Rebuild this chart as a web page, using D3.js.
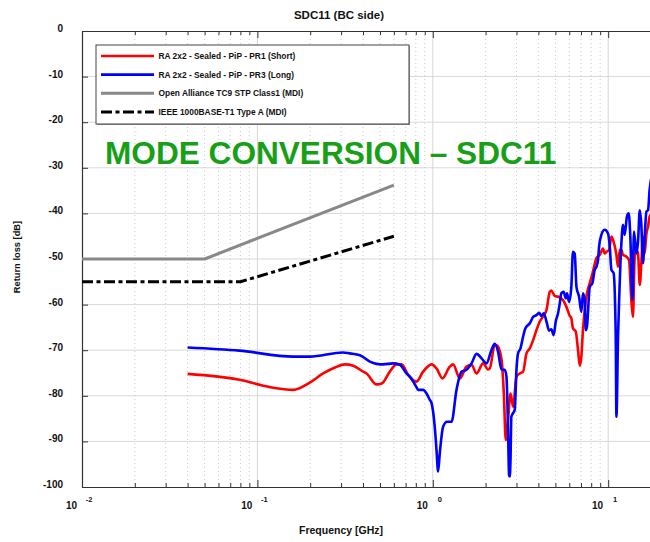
<!DOCTYPE html>
<html>
<head>
<meta charset="utf-8">
<script src="https://cdn.jsdelivr.net/npm/d3@7"></script>
<style>
  body { margin: 0; background: #fff; }
  svg { display: block; font-family: "Liberation Sans", Arial, sans-serif; }
</style>
</head>
<body>
<svg id="chart" width="650" height="542"></svg>
<script>
// SDC11 mode conversion, frequency in GHz, return loss in dB

// RA 2x2 - Sealed - PiP - PR1 (Short)
const freqShort = [0.04, 0.079, 0.118, 0.16, 0.199, 0.237, 0.277, 0.316, 0.352, 0.401, 0.419, 0.478,
  0.511, 0.569, 0.621, 0.664, 0.723, 0.807, 0.881, 0.984, 1.05, 1.135, 1.25, 1.306, 1.426, 1.556,
  1.663, 1.775, 1.936, 2.065, 2.113, 2.255, 2.306, 2.355, 2.466, 2.541, 2.606, 2.685, 2.773, 2.871,
  2.999, 3.133, 3.273, 3.42, 3.573, 3.733, 3.899, 4.074, 4.256, 4.446, 4.645, 4.742, 4.955, 5.297,
  5.525, 5.781, 6.039, 6.166, 6.295, 6.531, 6.73, 6.887, 7.031, 7.178, 7.345, 7.568, 7.852, 8.185,
  8.57, 8.954, 9.333, 9.55, 9.772, 10.11, 10.43, 10.65, 11.14, 11.38, 11.64, 11.89, 12.14, 12.71,
  13.14, 13.55, 13.84, 14.16, 14.49, 14.79, 15.14, 15.45, 15.78, 16.14, 16.52, 16.87, 17.22, 18.5, 20];
const lossShort = [-75.2, -76.5, -78.1, -78.7, -77.1, -75.1, -73.8, -73.1, -73.4, -74.7, -75.1, -77.5,
  -77.3, -74.7, -73.1, -73.1, -75.4, -76.9, -74.7, -73.1, -74.0, -76.2, -73.6, -73.1, -76.2, -73.6,
  -73.2, -75.1, -72.9, -74.2, -74.0, -68.9, -68.9, -69.2, -72.1, -79.5, -89.7, -85.3, -79.5, -82.4,
  -75.8, -75.1, -74.7, -70.7, -69.6, -67.8, -65.6, -63.7, -62.6, -61.2, -57.2, -56.9, -58.1, -58.4,
  -59.0, -60.5, -62.5, -63.0, -65.2, -65.9, -70.0, -73.4, -71.4, -65.6, -61.2, -57.5, -55.3, -52.8,
  -49.8, -49.1, -47.7, -48.8, -48.4, -48.0, -45.1, -45.8, -49.1, -51.7, -48.0, -48.0, -49.1, -49.5,
  -50.2, -59.0, -62.7, -49.5, -48.0, -48.8, -55.7, -50.9, -45.1, -48.8, -44.4, -42.9, -40.7, -39.5, -39];

// RA 2x2 - Sealed - PiP - PR3 (Long)
const freqLong = [0.04, 0.079, 0.16, 0.199, 0.308, 0.336, 0.384, 0.438, 0.478, 0.499, 0.521, 0.594,
  0.649, 0.708, 0.74, 0.807, 0.824, 0.881, 0.921, 0.962, 0.984, 1.026, 1.05, 1.072, 1.096, 1.145,
  1.206, 1.279, 1.365, 1.459, 1.556, 1.663, 1.775, 1.897, 2.023, 2.158, 2.255, 2.355, 2.466, 2.57,
  2.63, 2.685, 2.723, 2.748, 2.773, 2.805, 2.871, 2.931, 2.999, 3.062, 3.162, 3.273, 3.373, 3.573,
  3.733, 3.899, 4.036, 4.159, 4.295, 4.446, 4.603, 4.742, 4.887, 5.023, 5.176, 5.297, 5.408, 5.572,
  5.728, 5.821, 5.984, 6.166, 6.295, 6.442, 6.592, 6.823, 7.031, 7.178, 7.345, 7.447, 7.568, 7.852,
  8.128, 8.375, 8.57, 8.75, 8.872, 9.141, 9.55, 9.977, 10.21, 10.43, 10.74, 11.04, 11.14, 11.38,
  11.53, 11.89, 12.14, 12.42, 12.79, 13.09, 13.37, 13.74, 14.03, 14.49, 14.79, 15.14, 15.45, 15.78,
  16.14, 16.52, 16.87, 17.22, 18, 20];
const lossLong = [-69.4, -70.1, -71.4, -71.4, -70.5, -70.7, -71.1, -72.5, -73.0, -73.1, -73.1, -72.9,
  -73.2, -75.1, -75.8, -78.1, -78.7, -78.7, -79.5, -80.9, -81.6, -86.8, -91.9, -96.6, -92.6, -86.8,
  -85.7, -85.7, -78.7, -74.7, -74.3, -72.9, -70.8, -71.8, -72.9, -70.0, -68.6, -70.3, -74.3, -74.3,
  -75.8, -87.5, -97.4, -97.7, -94.1, -84.6, -83.8, -83.1, -74.3, -70.7, -69.6, -67.0, -65.2, -64.1,
  -62.7, -62.3, -61.8, -62.5, -61.9, -63.7, -65.7, -65.4, -66.7, -63.7, -61.9, -59.7, -57.5, -57.2,
  -58.6, -57.5, -59.4, -56.0, -48.4, -48.8, -56.1, -58.3, -61.6, -57.5, -59.0, -65.6, -64.8, -56.1,
  -55.3, -52.4, -51.7, -50.2, -47.3, -44.7, -43.6, -44.4, -47.3, -52.4, -53.1, -67.0, -84.6, -67.0,
  -59.7, -46.6, -42.5, -44.7, -40.7, -40.0, -45.1, -59.0, -44.0, -48.8, -46.2, -39.3, -42.5, -50.9,
  -45.1, -39.6, -39.3, -34.9, -31, -29];

// Open Alliance TC9 STP Class1 (MDI) limit
const freqOA = [0.01, 0.05, 0.6];
const lossOA = [-50, -50, -33.8];

// IEEE 1000BASE-T1 Type A (MDI) limit
const freqIEEE = [0.01, 0.08, 0.6];
const lossIEEE = [-55, -55, -45];

const seriesNames = [
  "RA 2x2 - Sealed - PiP - PR1 (Short)",
  "RA 2x2 - Sealed - PiP - PR3 (Long)",
  "Open Alliance TC9 STP Class1 (MDI)",
  "IEEE 1000BASE-T1 Type A (MDI)"
];
const yTickValues = [0, -10, -20, -30, -40, -50, -60, -70, -80, -90, -100];
const chartTitle = "SDC11 (BC side)";
const xTitle = "Frequency [GHz]";
const yTitle = "Return loss [dB]";
const banner = "MODE CONVERSION \u2013 SDC11";

// ---- layout & styling ----
const W = 650, H = 542;
const plot = { left: 82, right: 661, top: 31, bottom: 487 };
const lineStyles = [
  { color: "#ff0000", width: 2.6, dash: null },
  { color: "#0000ff", width: 2.6, dash: null },
  { color: "#888888", width: 3, dash: null },
  { color: "#000000", width: 3, dash: "11,3.5,4,3.5" }
];
const axisColor = "#333";

const x = d3.scaleLog().domain([0.01, 20]).range([plot.left, plot.right]);
const y = d3.scaleLinear().domain([-100, 0]).range([plot.bottom, plot.top]);

const svg = d3.select("#chart");
svg.append("rect").attr("width", W).attr("height", H).attr("fill", "#fff");

const allTicks = x.ticks();
const isDecade = d => Math.abs(Math.log10(d) - Math.round(Math.log10(d))) < 1e-9;
const minorTicks = allTicks.filter(d => !isDecade(d));
const majorTicks = allTicks.filter(isDecade);

// grid
const grid = svg.append("g");
grid.selectAll("line.gy").data(yTickValues.filter(d => d !== 0 && d !== -100)).join("line")
  .attr("x1", plot.left).attr("x2", plot.right)
  .attr("y1", d => y(d)).attr("y2", d => y(d))
  .attr("stroke", "#d9d9d9").attr("stroke-width", 1);
grid.selectAll("line.gmin").data(minorTicks).join("line")
  .attr("x1", d => x(d)).attr("x2", d => x(d))
  .attr("y1", plot.top).attr("y2", plot.bottom)
  .attr("stroke", "#bdbdbd").attr("stroke-width", 0.8).attr("stroke-dasharray", "1,3");
grid.selectAll("line.gmaj").data(majorTicks.filter(d => d > 0.01)).join("line")
  .attr("x1", d => x(d)).attr("x2", d => x(d))
  .attr("y1", plot.top).attr("y2", plot.bottom)
  .attr("stroke", "#d6d6d6").attr("stroke-width", 1);

// axes
function styleAxis(g) {
  g.select(".domain").attr("stroke", axisColor).attr("stroke-width", 1.2);
  g.selectAll(".tick line").attr("stroke", axisColor).attr("stroke-width", 1);
}
svg.append("g").attr("transform", `translate(0,${plot.bottom})`)
  .call(d3.axisBottom(x).tickValues(minorTicks).tickSize(-4).tickSizeOuter(0).tickFormat(""))
  .call(styleAxis);
svg.append("g").attr("transform", `translate(0,${plot.bottom})`)
  .call(d3.axisBottom(x).tickValues(majorTicks).tickSize(-7).tickSizeOuter(0).tickFormat(""))
  .call(styleAxis);
svg.append("g").attr("transform", `translate(0,${plot.top})`)
  .call(d3.axisTop(x).tickValues(minorTicks).tickSize(-4).tickSizeOuter(0).tickFormat(""))
  .call(styleAxis);
svg.append("g").attr("transform", `translate(0,${plot.top})`)
  .call(d3.axisTop(x).tickValues(majorTicks).tickSize(-7).tickSizeOuter(0).tickFormat(""))
  .call(styleAxis);
const yAxis = svg.append("g").attr("transform", `translate(${plot.left},0)`)
  .call(d3.axisLeft(y).tickValues(yTickValues).tickSize(-6).tickSizeOuter(0).tickPadding(19)
    .tickFormat(d => String(d)))
  .call(styleAxis);
yAxis.selectAll(".tick text")
  .attr("font-family", "'Liberation Sans', Arial, sans-serif")
  .attr("font-size", 10).attr("font-weight", "bold").attr("fill", "#111").attr("dy", "0.05em");
svg.append("g").attr("transform", `translate(${plot.right},0)`)
  .call(d3.axisRight(y).tickValues(yTickValues).tickSize(-6).tickSizeOuter(0).tickFormat(""))
  .call(styleAxis);

// decade labels 10^n
const xl = svg.append("g").attr("font-weight", "bold").attr("fill", "#111");
xl.selectAll("text.base").data(majorTicks).join("text")
  .attr("x", d => x(d) - 5).attr("y", 509)
  .attr("text-anchor", "end").attr("font-size", 10).text("10");
xl.selectAll("text.exp").data(majorTicks).join("text")
  .attr("x", d => x(d) + 7).attr("y", 501.5)
  .attr("text-anchor", "middle").attr("font-size", 7.5)
  .text(d => String(Math.round(Math.log10(d))));

// titles
svg.append("text").attr("x", 339).attr("y", 19).attr("text-anchor", "middle")
  .attr("font-size", 11.5).attr("font-weight", "bold").attr("fill", "#111").text(chartTitle);
svg.append("text").attr("x", 341).attr("y", 534).attr("text-anchor", "middle")
  .attr("font-size", 10.5).attr("font-weight", "bold").attr("fill", "#111").text(xTitle);
svg.append("text").attr("transform", "translate(20,257) rotate(-90)").attr("text-anchor", "middle")
  .attr("font-size", 9.3).attr("font-weight", "bold").attr("fill", "#111").text(yTitle);

// data lines
svg.append("clipPath").attr("id", "plotclip").append("rect")
  .attr("x", plot.left).attr("y", plot.top)
  .attr("width", plot.right - plot.left).attr("height", plot.bottom - plot.top);
const seriesData = [
  d3.zip(freqShort, lossShort),
  d3.zip(freqLong, lossLong),
  d3.zip(freqOA, lossOA),
  d3.zip(freqIEEE, lossIEEE)
];
const lineGen = d3.line().x(d => x(d[0])).y(d => y(d[1])).curve(d3.curveMonotoneX);
const straight = d3.line().x(d => x(d[0])).y(d => y(d[1]));
const lines = svg.append("g").attr("clip-path", "url(#plotclip)");
[2, 3, 0, 1].forEach(i => {
  lines.append("path")
    .attr("d", (i < 2 ? lineGen : straight)(seriesData[i]))
    .attr("fill", "none")
    .attr("stroke", lineStyles[i].color)
    .attr("stroke-width", lineStyles[i].width)
    .attr("stroke-linejoin", "round")
    .attr("stroke-dasharray", lineStyles[i].dash);
});

// banner
svg.append("text").attr("x", 105).attr("y", 164)
  .attr("font-size", 31.6).attr("font-weight", "bold").attr("fill", "#17a017")
  .text(banner);

// legend
const legend = svg.append("g").attr("transform", "translate(96,45)");
legend.append("rect").attr("x", 1).attr("y", 1).attr("width", 313).attr("height", 79)
  .attr("fill", "#9a9a9a");
legend.append("rect").attr("width", 313).attr("height", 79)
  .attr("fill", "#fff").attr("stroke", "#444").attr("stroke-width", 1);
const rowY = d3.scalePoint().domain(d3.range(seriesNames.length)).range([11, 67]);
const items = legend.selectAll("g.item").data(seriesNames).join("g")
  .attr("transform", (d, i) => `translate(0,${rowY(i)})`);
items.append("line").attr("x1", 5).attr("x2", 58).attr("y1", 0).attr("y2", 0)
  .attr("stroke", (d, i) => lineStyles[i].color)
  .attr("stroke-width", (d, i) => lineStyles[i].width)
  .attr("stroke-dasharray", (d, i) => lineStyles[i].dash);
items.append("text").attr("x", 62.5).attr("y", 3)
  .attr("font-size", 8.4).attr("font-weight", "bold").attr("fill", "#111")
  .text(d => d);
</script>
</body>
</html>
